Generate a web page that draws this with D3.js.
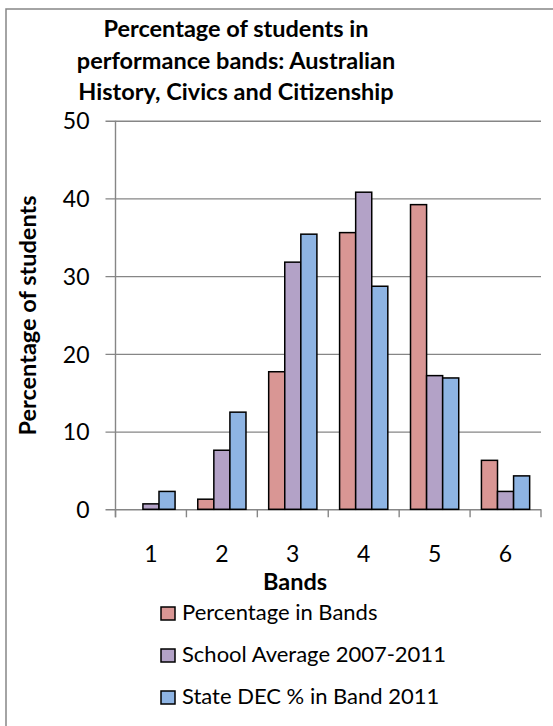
<!DOCTYPE html>
<html>
<head>
<meta charset="utf-8">
<script src="https://cdn.jsdelivr.net/npm/d3@7"></script>
<style>
  html, body { margin: 0; padding: 0; background: #fff; }
  svg { display: block; }
  text { font-family: Lato, "Open Sans", sans-serif; fill: #000; }
</style>
</head>
<body>
<script>
// Performance bands and the three series shown for each band
const bands = ["1", "2", "3", "4", "5", "6"];
const seriesNames = ["Percentage in Bands", "School Average 2007-2011", "State DEC % in Band 2011"];
const percentageInBands = [0, 1.3, 17.7, 35.6, 39.2, 6.3];
const schoolAverage = [0.7, 7.6, 31.8, 40.8, 17.2, 2.3];
const stateDec = [2.3, 12.5, 35.4, 28.7, 16.9, 4.3];
const seriesColors = ["#D99694", "#B3A2C7", "#8EB4E3"];
const yTicks = [0, 10, 20, 30, 40, 50];
const titleLines = ["Percentage of students in", "performance bands: Australian", "History, Civics and Citizenship"];

const W = 553, H = 726;
const plot = { left: 115.5, right: 541, top: 120.7, bottom: 509.3 };
const boldSize = 23.5, textSize = 22;

const svg = d3.select("body").append("svg").attr("width", W).attr("height", H);

// Chart frame (runs past the right and bottom edges)
svg.append("rect")
  .attr("x", 6).attr("y", 9).attr("width", 600).attr("height", 760)
  .attr("fill", "none").attr("stroke", "#868686").attr("stroke-width", 1.5);

// Title
svg.append("g").selectAll("text").data(titleLines).join("text")
  .attr("x", 236).attr("y", (d, i) => 37 + i * 31.5)
  .attr("text-anchor", "middle")
  .attr("font-weight", "bold").attr("font-size", boldSize)
  .text(d => d);

const x0 = d3.scaleBand().domain(bands).range([plot.left, plot.right])
  .paddingInner(0.32).paddingOuter(0.16);
const x1 = d3.scaleBand().domain(d3.range(seriesNames.length)).range([0, x0.bandwidth()]);
const y = d3.scaleLinear().domain([0, 50]).range([plot.bottom, plot.top]);

// Horizontal gridlines with outside ticks on the value axis
const yAxis = d3.axisLeft(y).tickValues(yTicks)
  .tickSize(-(plot.right - plot.left)).tickSizeOuter(0)
  .tickFormat(d3.format("d"));
const yg = svg.append("g").attr("transform", `translate(${plot.left},0)`).call(yAxis);
yg.select(".domain").remove();
yg.selectAll(".tick line")
  .attr("x1", -10)
  .attr("stroke", "#868686").attr("stroke-width", 1.4);
yg.selectAll(".tick text")
  .attr("font-size", 23).attr("font-family", "Lato, sans-serif").attr("fill", "#000")
  .attr("x", -26).attr("dy", "0.36em");

// Vertical value axis line
svg.append("line")
  .attr("x1", plot.left).attr("x2", plot.left)
  .attr("y1", plot.top).attr("y2", plot.bottom + 8)
  .attr("stroke", "#868686").attr("stroke-width", 1.4);

// Category tick marks at band boundaries
const step = x0.step();
const boundaries = d3.range(bands.length + 1).map(i => plot.left + i * step);
svg.append("g").selectAll("line").data(boundaries).join("line")
  .attr("x1", d => d).attr("x2", d => d)
  .attr("y1", plot.bottom).attr("y2", plot.bottom + 8)
  .attr("stroke", "#868686").attr("stroke-width", 1.4);

// Bars
const seriesValues = [percentageInBands, schoolAverage, stateDec];
const barData = [];
bands.forEach((b, bi) => {
  seriesValues.forEach((vals, si) => {
    if (vals[bi] > 0) barData.push({ band: b, series: si, value: vals[bi] });
  });
});
svg.append("g").selectAll("rect").data(barData).join("rect")
  .attr("x", d => x0(d.band) + x1(d.series))
  .attr("width", x1.bandwidth())
  .attr("y", d => y(d.value))
  .attr("height", d => y(0) - y(d.value))
  .attr("fill", d => seriesColors[d.series])
  .attr("stroke", "#000").attr("stroke-width", 1.5);

// Category labels
svg.append("g").selectAll("text").data(bands).join("text")
  .attr("x", d => x0(d) + x0.bandwidth() / 2)
  .attr("y", 562)
  .attr("text-anchor", "middle").attr("font-size", 23)
  .text(d => d);

// Axis titles
svg.append("text")
  .attr("x", 295).attr("y", 590)
  .attr("text-anchor", "middle").attr("font-weight", "bold").attr("font-size", boldSize)
  .text("Bands");

svg.append("text")
  .attr("transform", "translate(36,315.5) rotate(-90)")
  .attr("text-anchor", "middle").attr("font-weight", "bold").attr("font-size", boldSize)
  .text("Percentage of students");

// Legend
const legend = svg.append("g").selectAll("g").data(seriesNames).join("g")
  .attr("transform", (d, i) => `translate(161,${607 + i * 42})`);
legend.append("rect")
  .attr("width", 14).attr("height", 13)
  .attr("fill", (d, i) => seriesColors[i])
  .attr("stroke", "#000").attr("stroke-width", 1.5);
legend.append("text")
  .attr("x", 21).attr("y", 13)
  .attr("font-size", textSize)
  .text(d => d);
</script>
</body>
</html>
